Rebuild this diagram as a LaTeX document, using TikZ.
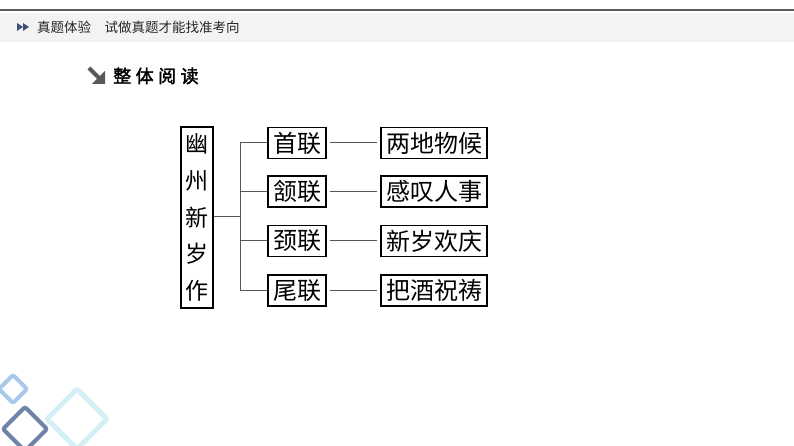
\documentclass[tikz,border=0pt]{standalone}
\usepackage{fontspec}
\newfontfamily\cjk{Noto Sans CJK SC}
\newfontfamily\cjkb{Noto Sans CJK SC}[FakeBold=2]
\definecolor{hdrline}{HTML}{5A5A5A}
\definecolor{hdrband}{HTML}{F3F3F3}
\definecolor{iconblue}{HTML}{3D5079}
\definecolor{dlight}{HTML}{A9C9EA}
\definecolor{ddark}{HTML}{6F82A8}
\definecolor{dcyan}{HTML}{D4F0F5}
\definecolor{conn}{HTML}{555555}
\tikzset{
  box/.style={draw=black, line width=1.2bp, inner sep=0pt, font=\cjk\fontsize{24bp}{36.7bp}\selectfont},
  midbox/.style={box, minimum width=58bp, minimum height=31bp},
  rightbox/.style={box, minimum width=106bp, minimum height=31bp},
  link/.style={draw=conn, line width=1bp},
  diam/.style={line width=4bp, rounded corners=2bp}
}
\begin{document}
\begin{tikzpicture}[x=1bp,y=-1bp]
\useasboundingbox (0,0) rectangle (794,446);
% header
\fill[hdrband] (0,13) rectangle (794,42);
\draw[hdrline, line width=1.5bp] (0,10) -- (794,10);
\fill[iconblue] (17,23) -- (23,27) -- (17,31) -- cycle;
\fill[iconblue] (23,23) -- (29,27) -- (23,31) -- cycle;
\node[anchor=west, inner sep=0pt, text=black!85, font=\cjk\fontsize{13.5bp}{16bp}\selectfont] (hdr) at (37,27) {真题体验　试做真题才能找准考向};
% section title
\draw[black!65, line width=4bp] (89,68) -- (99,78);
\fill[black!65] (105,71) -- (105,84) -- (92,84) -- cycle;
\node[anchor=west, inner sep=0pt, font=\cjkb\fontsize{18bp}{20bp}\selectfont] (title) at (113,76) {整\hspace{4.5bp}体\hspace{4.5bp}阅\hspace{4.5bp}读};
% diagram
\node[box, font=\cjk\fontsize{23bp}{36.7bp}\selectfont, minimum width=32bp, minimum height=181bp, align=center] (root) at (197,217.5) {幽\\州\\新\\岁\\作};
\node[midbox] (m1) at (297,143) {首联};
\node[midbox] (m2) at (297,191.5) {颔联};
\node[midbox] (m3) at (297,241) {颈联};
\node[midbox] (m4) at (297,290.5) {尾联};
\node[rightbox] (r1) at (434,143) {两地物候};
\node[rightbox] (r2) at (434,191.5) {感叹人事};
\node[rightbox] (r3) at (434,241) {新岁欢庆};
\node[rightbox] (r4) at (434,290.5) {把酒祝祷};
\coordinate (j) at (240,217);
\coordinate (jt) at (240,143);
\coordinate (jb) at (240,290.5);
\draw[link] (root.east |- j) -- (j);
\draw[link] (jt) -- (jb);
\foreach \i in {1,2,3,4}{
  \draw[link] (j |- m\i.west) -- (m\i.west);
  \draw[link, shorten <=3bp, shorten >=3bp] (m\i.east) -- (r\i.west);
}
% decorative diamonds
\draw[dcyan, diam, line width=5bp] (77,389) -- (107,419) -- (77,449) -- (47,419) -- cycle;
\draw[dlight, diam] (13,375) -- (27,389) -- (13,403) -- (-1,389) -- cycle;
\draw[ddark, diam] (25,407) -- (47,429) -- (25,451) -- (3,429) -- cycle;
\end{tikzpicture}
\end{document}
